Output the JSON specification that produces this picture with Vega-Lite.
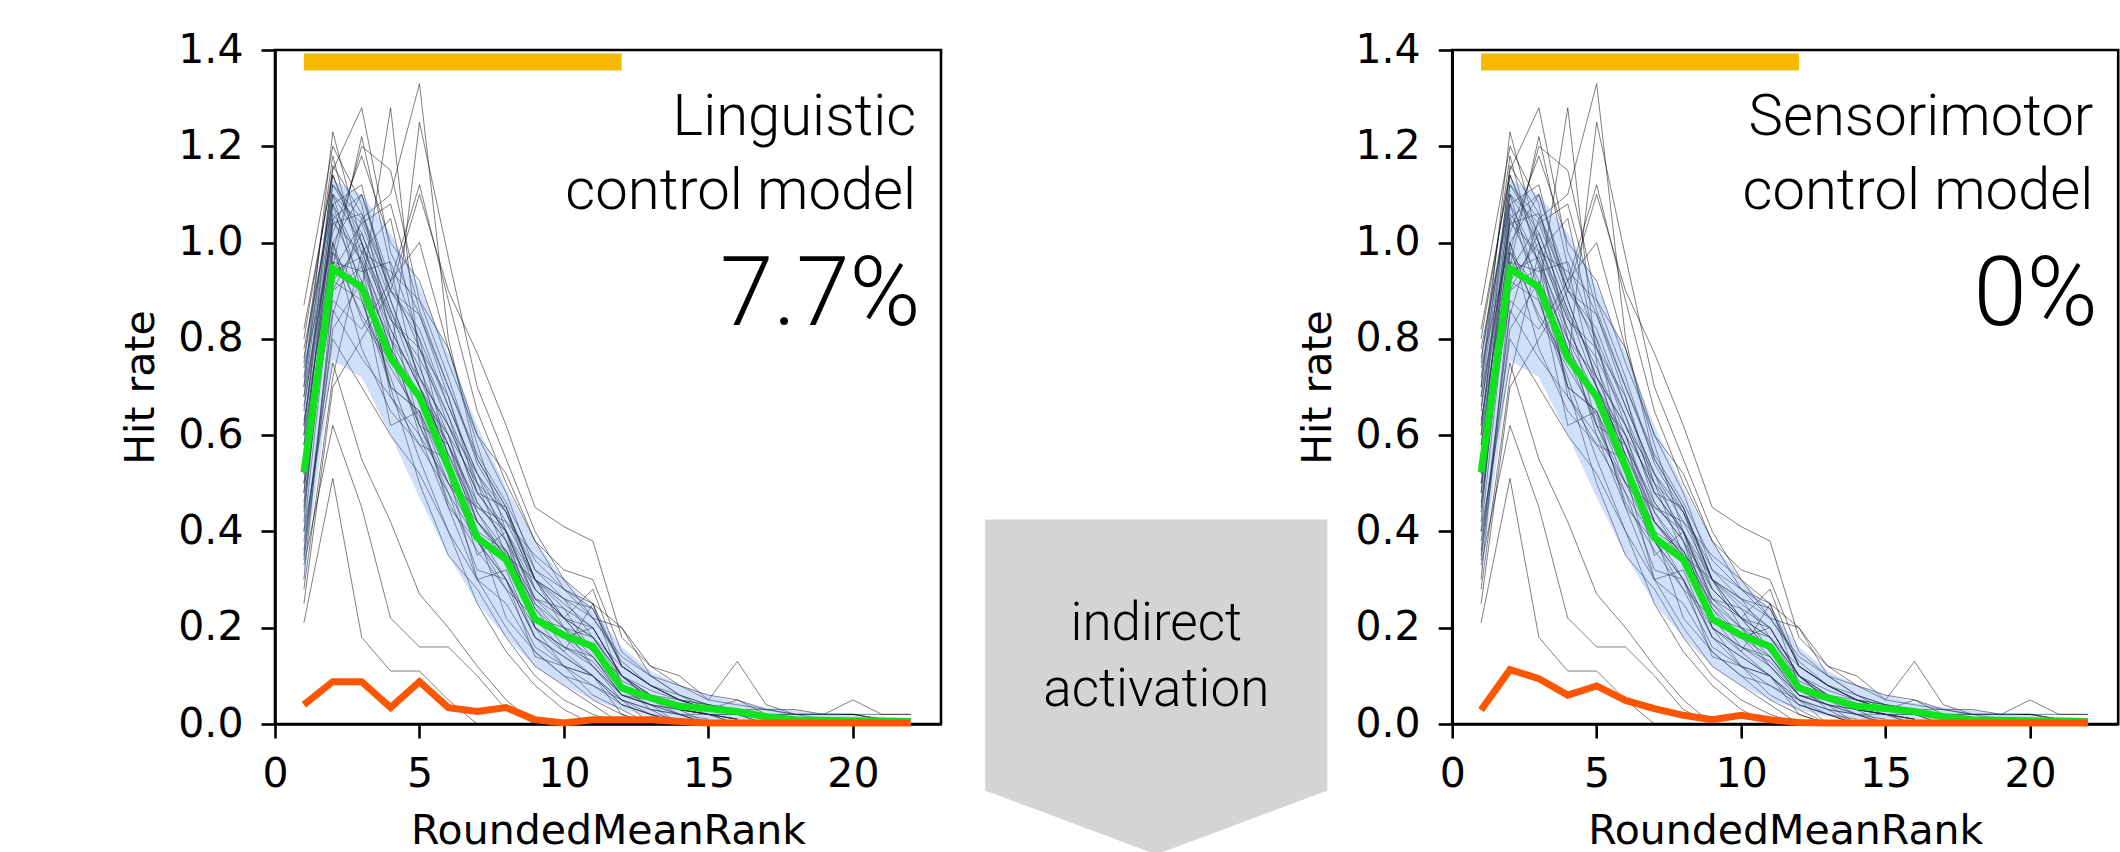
{
"$schema": "https://vega.github.io/schema/vega-lite/v6.json",
"padding": {"left": 119, "top": 27, "right": 0, "bottom": 0},
"spacing": 511.2,
"bounds": "flush",
"config": {
  "view": {"stroke": "black", "strokeWidth": 2.6},
  "axis": {"domainColor": "black", "domainWidth": 2.6, "tickColor": "black", "tickWidth": 2.6, "tickSize": 14, "labelFont": "DejaVu Sans", "labelFontSize": 41, "labelColor": "black", "titleFont": "DejaVu Sans", "titleFontSize": 41, "titleFontWeight": "normal", "titleColor": "black", "grid": false, "labelFlush": false, "labelOverlap": false},
  "axisX": {"labelPadding": 16, "titlePadding": 17},
  "axisY": {"labelPadding": 18, "titlePadding": 15},
  "text": {"font": "Roboto", "fontWeight": 300, "color": "black"}
},
"datasets": {
  "subj": [
{"s":1,"x":1,"y":0.62},{"s":1,"x":2,"y":1.05},{"s":1,"x":3,"y":1.10},{"s":1,"x":4,"y":0.90},{"s":1,"x":5,"y":0.80},{"s":1,"x":6,"y":0.55},{"s":1,"x":7,"y":0.40},{"s":1,"x":8,"y":0.30},{"s":1,"x":9,"y":0.20},{"s":1,"x":10,"y":0.12},{"s":1,"x":11,"y":0.10},{"s":1,"x":12,"y":0.05},{"s":1,"x":13,"y":0.03},{"s":1,"x":14,"y":0.02},{"s":1,"x":15,"y":0.0},
{"s":2,"x":1,"y":0.45},{"s":2,"x":2,"y":0.95},{"s":2,"x":3,"y":1.22},{"s":2,"x":4,"y":0.95},{"s":2,"x":5,"y":0.70},{"s":2,"x":6,"y":0.60},{"s":2,"x":7,"y":0.42},{"s":2,"x":8,"y":0.35},{"s":2,"x":9,"y":0.22},{"s":2,"x":10,"y":0.15},{"s":2,"x":11,"y":0.10},{"s":2,"x":12,"y":0.05},{"s":2,"x":13,"y":0.0},
{"s":3,"x":1,"y":0.70},{"s":3,"x":2,"y":1.23},{"s":3,"x":3,"y":1.00},{"s":3,"x":4,"y":0.85},{"s":3,"x":5,"y":0.62},{"s":3,"x":6,"y":0.48},{"s":3,"x":7,"y":0.38},{"s":3,"x":8,"y":0.30},{"s":3,"x":9,"y":0.18},{"s":3,"x":10,"y":0.12},{"s":3,"x":11,"y":0.08},{"s":3,"x":12,"y":0.04},{"s":3,"x":13,"y":0.02},{"s":3,"x":14,"y":0.0},
{"s":4,"x":1,"y":0.55},{"s":4,"x":2,"y":1.10},{"s":4,"x":3,"y":0.90},{"s":4,"x":4,"y":1.28},{"s":4,"x":5,"y":0.75},{"s":4,"x":6,"y":0.52},{"s":4,"x":7,"y":0.40},{"s":4,"x":8,"y":0.22},{"s":4,"x":9,"y":0.15},{"s":4,"x":10,"y":0.10},{"s":4,"x":11,"y":0.05},{"s":4,"x":12,"y":0.02},{"s":4,"x":13,"y":0.0},
{"s":5,"x":1,"y":0.35},{"s":5,"x":2,"y":0.85},{"s":5,"x":3,"y":1.05},{"s":5,"x":4,"y":1.10},{"s":5,"x":5,"y":1.33},{"s":5,"x":6,"y":0.80},{"s":5,"x":7,"y":0.55},{"s":5,"x":8,"y":0.45},{"s":5,"x":9,"y":0.30},{"s":5,"x":10,"y":0.22},{"s":5,"x":11,"y":0.15},{"s":5,"x":12,"y":0.08},{"s":5,"x":13,"y":0.05},{"s":5,"x":14,"y":0.03},{"s":5,"x":15,"y":0.0},
{"s":6,"x":1,"y":0.80},{"s":6,"x":2,"y":1.15},{"s":6,"x":3,"y":1.28},{"s":6,"x":4,"y":0.98},{"s":6,"x":5,"y":0.85},{"s":6,"x":6,"y":0.68},{"s":6,"x":7,"y":0.50},{"s":6,"x":8,"y":0.35},{"s":6,"x":9,"y":0.25},{"s":6,"x":10,"y":0.20},{"s":6,"x":11,"y":0.12},{"s":6,"x":12,"y":0.06},{"s":6,"x":13,"y":0.04},{"s":6,"x":14,"y":0.0},
{"s":7,"x":1,"y":0.50},{"s":7,"x":2,"y":0.98},{"s":7,"x":3,"y":0.85},{"s":7,"x":4,"y":0.75},{"s":7,"x":5,"y":1.25},{"s":7,"x":6,"y":0.97},{"s":7,"x":7,"y":0.70},{"s":7,"x":8,"y":0.55},{"s":7,"x":9,"y":0.40},{"s":7,"x":10,"y":0.30},{"s":7,"x":11,"y":0.25},{"s":7,"x":12,"y":0.12},{"s":7,"x":13,"y":0.08},{"s":7,"x":14,"y":0.05},{"s":7,"x":15,"y":0.03},{"s":7,"x":16,"y":0.02},{"s":7,"x":17,"y":0.0},
{"s":8,"x":1,"y":0.87},{"s":8,"x":2,"y":1.20},{"s":8,"x":3,"y":1.08},{"s":8,"x":4,"y":0.80},{"s":8,"x":5,"y":0.60},{"s":8,"x":6,"y":0.45},{"s":8,"x":7,"y":0.30},{"s":8,"x":8,"y":0.20},{"s":8,"x":9,"y":0.12},{"s":8,"x":10,"y":0.08},{"s":8,"x":11,"y":0.04},{"s":8,"x":12,"y":0.0},
{"s":9,"x":1,"y":0.30},{"s":9,"x":2,"y":0.90},{"s":9,"x":3,"y":0.95},{"s":9,"x":4,"y":0.70},{"s":9,"x":5,"y":0.65},{"s":9,"x":6,"y":0.50},{"s":9,"x":7,"y":0.45},{"s":9,"x":8,"y":0.40},{"s":9,"x":9,"y":0.25},{"s":9,"x":10,"y":0.18},{"s":9,"x":11,"y":0.20},{"s":9,"x":12,"y":0.10},{"s":9,"x":13,"y":0.05},{"s":9,"x":14,"y":0.03},{"s":9,"x":15,"y":0.02},{"s":9,"x":16,"y":0.0},
{"s":10,"x":1,"y":0.60},{"s":10,"x":2,"y":1.00},{"s":10,"x":3,"y":0.78},{"s":10,"x":4,"y":0.65},{"s":10,"x":5,"y":0.58},{"s":10,"x":6,"y":0.55},{"s":10,"x":7,"y":0.35},{"s":10,"x":8,"y":0.40},{"s":10,"x":9,"y":0.20},{"s":10,"x":10,"y":0.15},{"s":10,"x":11,"y":0.25},{"s":10,"x":12,"y":0.08},{"s":10,"x":13,"y":0.03},{"s":10,"x":14,"y":0.0},
{"s":11,"x":1,"y":0.25},{"s":11,"x":2,"y":0.70},{"s":11,"x":3,"y":0.80},{"s":11,"x":4,"y":0.90},{"s":11,"x":5,"y":1.10},{"s":11,"x":6,"y":0.90},{"s":11,"x":7,"y":0.77},{"s":11,"x":8,"y":0.62},{"s":11,"x":9,"y":0.45},{"s":11,"x":10,"y":0.41},{"s":11,"x":11,"y":0.38},{"s":11,"x":12,"y":0.18},{"s":11,"x":13,"y":0.12},{"s":11,"x":14,"y":0.10},{"s":11,"x":15,"y":0.05},{"s":11,"x":16,"y":0.13},{"s":11,"x":17,"y":0.04},{"s":11,"x":18,"y":0.02},{"s":11,"x":19,"y":0.02},{"s":11,"x":20,"y":0.05},{"s":11,"x":21,"y":0.02},{"s":11,"x":22,"y":0.02},
{"s":12,"x":1,"y":0.65},{"s":12,"x":2,"y":1.10},{"s":12,"x":3,"y":1.00},{"s":12,"x":4,"y":0.68},{"s":12,"x":5,"y":0.60},{"s":12,"x":6,"y":0.50},{"s":12,"x":7,"y":0.42},{"s":12,"x":8,"y":0.35},{"s":12,"x":9,"y":0.30},{"s":12,"x":10,"y":0.20},{"s":12,"x":11,"y":0.18},{"s":12,"x":12,"y":0.10},{"s":12,"x":13,"y":0.06},{"s":12,"x":14,"y":0.05},{"s":12,"x":15,"y":0.03},{"s":12,"x":16,"y":0.02},{"s":12,"x":17,"y":0.01},{"s":12,"x":18,"y":0.0},
{"s":13,"x":1,"y":0.21},{"s":13,"x":2,"y":0.51},{"s":13,"x":3,"y":0.18},{"s":13,"x":4,"y":0.11},{"s":13,"x":5,"y":0.11},{"s":13,"x":6,"y":0.05},{"s":13,"x":7,"y":0.0},
{"s":14,"x":1,"y":0.33},{"s":14,"x":2,"y":0.62},{"s":14,"x":3,"y":0.45},{"s":14,"x":4,"y":0.22},{"s":14,"x":5,"y":0.16},{"s":14,"x":6,"y":0.16},{"s":14,"x":7,"y":0.10},{"s":14,"x":8,"y":0.03},{"s":14,"x":9,"y":0.0},
{"s":15,"x":1,"y":0.40},{"s":15,"x":2,"y":0.75},{"s":15,"x":3,"y":0.55},{"s":15,"x":4,"y":0.42},{"s":15,"x":5,"y":0.27},{"s":15,"x":6,"y":0.20},{"s":15,"x":7,"y":0.12},{"s":15,"x":8,"y":0.05},{"s":15,"x":9,"y":0.0},
{"s":16,"x":1,"y":0.72},{"s":16,"x":2,"y":1.12},{"s":16,"x":3,"y":1.05},{"s":16,"x":4,"y":0.90},{"s":16,"x":5,"y":0.85},{"s":16,"x":6,"y":0.70},{"s":16,"x":7,"y":0.55},{"s":16,"x":8,"y":0.45},{"s":16,"x":9,"y":0.30},{"s":16,"x":10,"y":0.25},{"s":16,"x":11,"y":0.20},{"s":16,"x":12,"y":0.10},{"s":16,"x":13,"y":0.05},{"s":16,"x":14,"y":0.04},{"s":16,"x":15,"y":0.03},{"s":16,"x":16,"y":0.02},
{"s":17,"x":1,"y":0.58},{"s":17,"x":2,"y":0.92},{"s":17,"x":3,"y":0.88},{"s":17,"x":4,"y":0.72},{"s":17,"x":5,"y":0.55},{"s":17,"x":6,"y":0.40},{"s":17,"x":7,"y":0.30},{"s":17,"x":8,"y":0.25},{"s":17,"x":9,"y":0.15},{"s":17,"x":10,"y":0.10},{"s":17,"x":11,"y":0.08},{"s":17,"x":12,"y":0.05},{"s":17,"x":13,"y":0.02},{"s":17,"x":14,"y":0.0},
{"s":18,"x":1,"y":0.48},{"s":18,"x":2,"y":1.08},{"s":18,"x":3,"y":1.12},{"s":18,"x":4,"y":0.88},{"s":18,"x":5,"y":0.72},{"s":18,"x":6,"y":0.62},{"s":18,"x":7,"y":0.48},{"s":18,"x":8,"y":0.40},{"s":18,"x":9,"y":0.28},{"s":18,"x":10,"y":0.22},{"s":18,"x":11,"y":0.28},{"s":18,"x":12,"y":0.12},{"s":18,"x":13,"y":0.08},{"s":18,"x":14,"y":0.05},{"s":18,"x":15,"y":0.03},{"s":18,"x":16,"y":0.03},{"s":18,"x":17,"y":0.02},{"s":18,"x":18,"y":0.02},{"s":18,"x":19,"y":0.02},{"s":18,"x":20,"y":0.02},{"s":18,"x":21,"y":0.02},{"s":18,"x":22,"y":0.02},
{"s":19,"x":1,"y":0.75},{"s":19,"x":2,"y":1.18},{"s":19,"x":3,"y":0.95},{"s":19,"x":4,"y":0.78},{"s":19,"x":5,"y":0.62},{"s":19,"x":6,"y":0.58},{"s":19,"x":7,"y":0.45},{"s":19,"x":8,"y":0.42},{"s":19,"x":9,"y":0.35},{"s":19,"x":10,"y":0.30},{"s":19,"x":11,"y":0.22},{"s":19,"x":12,"y":0.20},{"s":19,"x":13,"y":0.10},{"s":19,"x":14,"y":0.08},{"s":19,"x":15,"y":0.05},{"s":19,"x":16,"y":0.04},{"s":19,"x":17,"y":0.03},{"s":19,"x":18,"y":0.03},{"s":19,"x":19,"y":0.02},{"s":19,"x":20,"y":0.02},{"s":19,"x":21,"y":0.01},{"s":19,"x":22,"y":0.01},
{"s":20,"x":1,"y":0.38},{"s":20,"x":2,"y":0.80},{"s":20,"x":3,"y":0.70},{"s":20,"x":4,"y":0.60},{"s":20,"x":5,"y":0.52},{"s":20,"x":6,"y":0.40},{"s":20,"x":7,"y":0.25},{"s":20,"x":8,"y":0.15},{"s":20,"x":9,"y":0.08},{"s":20,"x":10,"y":0.03},{"s":20,"x":11,"y":0.0},
{"s":21,"x":1,"y":0.68},{"s":21,"x":2,"y":1.02},{"s":21,"x":3,"y":1.18},{"s":21,"x":4,"y":1.00},{"s":21,"x":5,"y":0.92},{"s":21,"x":6,"y":0.75},{"s":21,"x":7,"y":0.60},{"s":21,"x":8,"y":0.52},{"s":21,"x":9,"y":0.38},{"s":21,"x":10,"y":0.32},{"s":21,"x":11,"y":0.30},{"s":21,"x":12,"y":0.15},{"s":21,"x":13,"y":0.10},{"s":21,"x":14,"y":0.06},{"s":21,"x":15,"y":0.04},{"s":21,"x":16,"y":0.02},{"s":21,"x":17,"y":0.0},
{"s":22,"x":1,"y":0.52},{"s":22,"x":2,"y":0.88},{"s":22,"x":3,"y":0.82},{"s":22,"x":4,"y":0.92},{"s":22,"x":5,"y":1.12},{"s":22,"x":6,"y":0.88},{"s":22,"x":7,"y":0.65},{"s":22,"x":8,"y":0.50},{"s":22,"x":9,"y":0.38},{"s":22,"x":10,"y":0.28},{"s":22,"x":11,"y":0.25},{"s":22,"x":12,"y":0.20},{"s":22,"x":13,"y":0.12},{"s":22,"x":14,"y":0.08},{"s":22,"x":15,"y":0.06},{"s":22,"x":16,"y":0.05},{"s":22,"x":17,"y":0.03},{"s":22,"x":18,"y":0.02},{"s":22,"x":19,"y":0.02},{"s":22,"x":20,"y":0.02},{"s":22,"x":21,"y":0.01},{"s":22,"x":22,"y":0.01},
{"s":23,"x":1,"y":0.42},{"s":23,"x":2,"y":1.05},{"s":23,"x":3,"y":0.92},{"s":23,"x":4,"y":0.70},{"s":23,"x":5,"y":0.50},{"s":23,"x":6,"y":0.35},{"s":23,"x":7,"y":0.28},{"s":23,"x":8,"y":0.18},{"s":23,"x":9,"y":0.10},{"s":23,"x":10,"y":0.05},{"s":23,"x":11,"y":0.02},{"s":23,"x":12,"y":0.0},
{"s":24,"x":1,"y":0.82},{"s":24,"x":2,"y":1.14},{"s":24,"x":3,"y":1.00},{"s":24,"x":4,"y":0.82},{"s":24,"x":5,"y":0.70},{"s":24,"x":6,"y":0.58},{"s":24,"x":7,"y":0.42},{"s":24,"x":8,"y":0.36},{"s":24,"x":9,"y":0.26},{"s":24,"x":10,"y":0.24},{"s":24,"x":11,"y":0.15},{"s":24,"x":12,"y":0.08},{"s":24,"x":13,"y":0.06},{"s":24,"x":14,"y":0.04},{"s":24,"x":15,"y":0.03},{"s":24,"x":16,"y":0.02},{"s":24,"x":17,"y":0.02},{"s":24,"x":18,"y":0.01},
{"s":25,"x":1,"y":0.55},{"s":25,"x":2,"y":0.98},{"s":25,"x":3,"y":1.20},{"s":25,"x":4,"y":1.15},{"s":25,"x":5,"y":0.88},{"s":25,"x":6,"y":0.78},{"s":25,"x":7,"y":0.58},{"s":25,"x":8,"y":0.40},{"s":25,"x":9,"y":0.30},{"s":25,"x":10,"y":0.22},{"s":25,"x":11,"y":0.15},{"s":25,"x":12,"y":0.10},{"s":25,"x":13,"y":0.05},{"s":25,"x":14,"y":0.02},{"s":25,"x":15,"y":0.0},
{"s":26,"x":1,"y":0.63},{"s":26,"x":2,"y":0.96},{"s":26,"x":3,"y":0.90},{"s":26,"x":4,"y":0.62},{"s":26,"x":5,"y":0.65},{"s":26,"x":6,"y":0.45},{"s":26,"x":7,"y":0.38},{"s":26,"x":8,"y":0.28},{"s":26,"x":9,"y":0.22},{"s":26,"x":10,"y":0.18},{"s":26,"x":11,"y":0.12},{"s":26,"x":12,"y":0.06},{"s":26,"x":13,"y":0.05},{"s":26,"x":14,"y":0.03},{"s":26,"x":15,"y":0.02},{"s":26,"x":16,"y":0.0},
{"s":27,"x":1,"y":0.28},{"s":27,"x":2,"y":0.72},{"s":27,"x":3,"y":0.98},{"s":27,"x":4,"y":1.05},{"s":27,"x":5,"y":0.78},{"s":27,"x":6,"y":0.68},{"s":27,"x":7,"y":0.48},{"s":27,"x":8,"y":0.45},{"s":27,"x":9,"y":0.30},{"s":27,"x":10,"y":0.26},{"s":27,"x":11,"y":0.18},{"s":27,"x":12,"y":0.12},{"s":27,"x":13,"y":0.08},{"s":27,"x":14,"y":0.06},{"s":27,"x":15,"y":0.03},{"s":27,"x":16,"y":0.05},{"s":27,"x":17,"y":0.02},{"s":27,"x":18,"y":0.01},{"s":27,"x":19,"y":0.01},
{"s":28,"x":1,"y":0.78},{"s":28,"x":2,"y":1.08},{"s":28,"x":3,"y":0.88},{"s":28,"x":4,"y":0.70},{"s":28,"x":5,"y":0.65},{"s":28,"x":6,"y":0.52},{"s":28,"x":7,"y":0.30},{"s":28,"x":8,"y":0.32},{"s":28,"x":9,"y":0.18},{"s":28,"x":10,"y":0.14},{"s":28,"x":11,"y":0.10},{"s":28,"x":12,"y":0.02},{"s":28,"x":13,"y":0.0},
{"s":29,"x":1,"y":0.46},{"s":29,"x":2,"y":0.94},{"s":29,"x":3,"y":0.97},{"s":29,"x":4,"y":0.80},{"s":29,"x":5,"y":0.72},{"s":29,"x":6,"y":0.62},{"s":29,"x":7,"y":0.52},{"s":29,"x":8,"y":0.38},{"s":29,"x":9,"y":0.20},{"s":29,"x":10,"y":0.16},{"s":29,"x":11,"y":0.13},{"s":29,"x":12,"y":0.06},{"s":29,"x":13,"y":0.04},{"s":29,"x":14,"y":0.03},{"s":29,"x":15,"y":0.02},{"s":29,"x":16,"y":0.01},
{"s":30,"x":1,"y":0.60},{"s":30,"x":2,"y":1.16},{"s":30,"x":3,"y":1.06},{"s":30,"x":4,"y":0.92},{"s":30,"x":5,"y":1.00},{"s":30,"x":6,"y":0.78},{"s":30,"x":7,"y":0.60},{"s":30,"x":8,"y":0.48},{"s":30,"x":9,"y":0.32},{"s":30,"x":10,"y":0.28},{"s":30,"x":11,"y":0.22},{"s":30,"x":12,"y":0.13},{"s":30,"x":13,"y":0.08},{"s":30,"x":14,"y":0.05},{"s":30,"x":15,"y":0.04},{"s":30,"x":16,"y":0.03},{"s":30,"x":17,"y":0.02},{"s":30,"x":18,"y":0.02},{"s":30,"x":19,"y":0.01},{"s":30,"x":20,"y":0.01},
{"s":31,"x":1,"y":0.36},{"s":31,"x":2,"y":0.86},{"s":31,"x":3,"y":0.76},{"s":31,"x":4,"y":0.68},{"s":31,"x":5,"y":0.58},{"s":31,"x":6,"y":0.48},{"s":31,"x":7,"y":0.32},{"s":31,"x":8,"y":0.30},{"s":31,"x":9,"y":0.14},{"s":31,"x":10,"y":0.12},{"s":31,"x":11,"y":0.06},{"s":31,"x":12,"y":0.03},{"s":31,"x":13,"y":0.0},
{"s":32,"x":1,"y":0.66},{"s":32,"x":2,"y":1.04},{"s":32,"x":3,"y":0.98},{"s":32,"x":4,"y":0.84},{"s":32,"x":5,"y":0.76},{"s":32,"x":6,"y":0.64},{"s":32,"x":7,"y":0.46},{"s":32,"x":8,"y":0.38},{"s":32,"x":9,"y":0.24},{"s":32,"x":10,"y":0.18},{"s":32,"x":11,"y":0.16},{"s":32,"x":12,"y":0.08},{"s":32,"x":13,"y":0.06},{"s":32,"x":14,"y":0.03},{"s":32,"x":15,"y":0.02},{"s":32,"x":16,"y":0.02},{"s":32,"x":17,"y":0.01},
{"s":33,"x":1,"y":0.50},{"s":33,"x":2,"y":0.90},{"s":33,"x":3,"y":1.02},{"s":33,"x":4,"y":0.86},{"s":33,"x":5,"y":0.70},{"s":33,"x":6,"y":0.56},{"s":33,"x":7,"y":0.44},{"s":33,"x":8,"y":0.34},{"s":33,"x":9,"y":0.22},{"s":33,"x":10,"y":0.20},{"s":33,"x":11,"y":0.14},{"s":33,"x":12,"y":0.07},{"s":33,"x":13,"y":0.04},{"s":33,"x":14,"y":0.02},{"s":33,"x":15,"y":0.02},{"s":33,"x":16,"y":0.01},
{"s":34,"x":1,"y":0.74},{"s":34,"x":2,"y":1.00},{"s":34,"x":3,"y":0.84},{"s":34,"x":4,"y":0.74},{"s":34,"x":5,"y":0.64},{"s":34,"x":6,"y":0.46},{"s":34,"x":7,"y":0.36},{"s":34,"x":8,"y":0.28},{"s":34,"x":9,"y":0.16},{"s":34,"x":10,"y":0.12},{"s":34,"x":11,"y":0.10},{"s":34,"x":12,"y":0.04},{"s":34,"x":13,"y":0.02},{"s":34,"x":14,"y":0.01},
{"s":35,"x":1,"y":0.44},{"s":35,"x":2,"y":0.96},{"s":35,"x":3,"y":0.94},{"s":35,"x":4,"y":0.96},{"s":35,"x":5,"y":0.80},{"s":35,"x":6,"y":0.66},{"s":35,"x":7,"y":0.52},{"s":35,"x":8,"y":0.44},{"s":35,"x":9,"y":0.28},{"s":35,"x":10,"y":0.22},{"s":35,"x":11,"y":0.20},{"s":35,"x":12,"y":0.10},{"s":35,"x":13,"y":0.07},{"s":35,"x":14,"y":0.05},{"s":35,"x":15,"y":0.03},{"s":35,"x":16,"y":0.02},{"s":35,"x":17,"y":0.02},{"s":35,"x":18,"y":0.01},
{"s":36,"x":1,"y":0.56},{"s":36,"x":2,"y":1.06},{"s":36,"x":3,"y":0.96},{"s":36,"x":4,"y":0.78},{"s":36,"x":5,"y":0.68},{"s":36,"x":6,"y":0.58},{"s":36,"x":7,"y":0.40},{"s":36,"x":8,"y":0.36},{"s":36,"x":9,"y":0.24},{"s":36,"x":10,"y":0.16},{"s":36,"x":11,"y":0.14},{"s":36,"x":12,"y":0.06},{"s":36,"x":13,"y":0.04},{"s":36,"x":14,"y":0.03},{"s":36,"x":15,"y":0.02},{"s":36,"x":16,"y":0.01},
{"s":37,"x":1,"y":0.68},{"s":37,"x":2,"y":1.12},{"s":37,"x":3,"y":1.02},{"s":37,"x":4,"y":0.86},{"s":37,"x":5,"y":0.74},{"s":37,"x":6,"y":0.60},{"s":37,"x":7,"y":0.44},{"s":37,"x":8,"y":0.36},{"s":37,"x":9,"y":0.22},{"s":37,"x":10,"y":0.18},{"s":37,"x":11,"y":0.14},{"s":37,"x":12,"y":0.06},{"s":37,"x":13,"y":0.04},{"s":37,"x":14,"y":0.02},{"s":37,"x":15,"y":0.01},
{"s":38,"x":1,"y":0.52},{"s":38,"x":2,"y":1.00},{"s":38,"x":3,"y":1.10},{"s":38,"x":4,"y":0.92},{"s":38,"x":5,"y":0.78},{"s":38,"x":6,"y":0.64},{"s":38,"x":7,"y":0.50},{"s":38,"x":8,"y":0.40},{"s":38,"x":9,"y":0.26},{"s":38,"x":10,"y":0.20},{"s":38,"x":11,"y":0.16},{"s":38,"x":12,"y":0.08},{"s":38,"x":13,"y":0.05},{"s":38,"x":14,"y":0.03},{"s":38,"x":15,"y":0.02},{"s":38,"x":16,"y":0.01},
{"s":39,"x":1,"y":0.40},{"s":39,"x":2,"y":0.94},{"s":39,"x":3,"y":1.04},{"s":39,"x":4,"y":1.08},{"s":39,"x":5,"y":0.86},{"s":39,"x":6,"y":0.70},{"s":39,"x":7,"y":0.56},{"s":39,"x":8,"y":0.46},{"s":39,"x":9,"y":0.34},{"s":39,"x":10,"y":0.28},{"s":39,"x":11,"y":0.24},{"s":39,"x":12,"y":0.12},{"s":39,"x":13,"y":0.08},{"s":39,"x":14,"y":0.05},{"s":39,"x":15,"y":0.04},{"s":39,"x":16,"y":0.03},{"s":39,"x":17,"y":0.02},{"s":39,"x":18,"y":0.01},
{"s":40,"x":1,"y":0.62},{"s":40,"x":2,"y":1.08},{"s":40,"x":3,"y":0.96},{"s":40,"x":4,"y":0.82},{"s":40,"x":5,"y":0.70},{"s":40,"x":6,"y":0.56},{"s":40,"x":7,"y":0.42},{"s":40,"x":8,"y":0.34},{"s":40,"x":9,"y":0.20},{"s":40,"x":10,"y":0.16},{"s":40,"x":11,"y":0.12},{"s":40,"x":12,"y":0.05},{"s":40,"x":13,"y":0.03},{"s":40,"x":14,"y":0.02},{"s":40,"x":15,"y":0.0},
{"s":41,"x":1,"y":0.76},{"s":41,"x":2,"y":1.10},{"s":41,"x":3,"y":1.04},{"s":41,"x":4,"y":0.88},{"s":41,"x":5,"y":0.72},{"s":41,"x":6,"y":0.58},{"s":41,"x":7,"y":0.46},{"s":41,"x":8,"y":0.38},{"s":41,"x":9,"y":0.28},{"s":41,"x":10,"y":0.22},{"s":41,"x":11,"y":0.18},{"s":41,"x":12,"y":0.10},{"s":41,"x":13,"y":0.06},{"s":41,"x":14,"y":0.04},{"s":41,"x":15,"y":0.02},{"s":41,"x":16,"y":0.02},{"s":41,"x":17,"y":0.01},
{"s":42,"x":1,"y":0.34},{"s":42,"x":2,"y":0.82},{"s":42,"x":3,"y":0.92},{"s":42,"x":4,"y":0.80},{"s":42,"x":5,"y":0.68},{"s":42,"x":6,"y":0.60},{"s":42,"x":7,"y":0.50},{"s":42,"x":8,"y":0.44},{"s":42,"x":9,"y":0.32},{"s":42,"x":10,"y":0.26},{"s":42,"x":11,"y":0.22},{"s":42,"x":12,"y":0.14},{"s":42,"x":13,"y":0.10},{"s":42,"x":14,"y":0.06},{"s":42,"x":15,"y":0.04},{"s":42,"x":16,"y":0.03},{"s":42,"x":17,"y":0.03},{"s":42,"x":18,"y":0.02},{"s":42,"x":19,"y":0.02},{"s":42,"x":20,"y":0.02},{"s":42,"x":21,"y":0.01},{"s":42,"x":22,"y":0.01},
{"s":43,"x":1,"y":0.58},{"s":43,"x":2,"y":1.04},{"s":43,"x":3,"y":1.06},{"s":43,"x":4,"y":0.90},{"s":43,"x":5,"y":0.82},{"s":43,"x":6,"y":0.66},{"s":43,"x":7,"y":0.52},{"s":43,"x":8,"y":0.42},{"s":43,"x":9,"y":0.30},{"s":43,"x":10,"y":0.24},{"s":43,"x":11,"y":0.20},{"s":43,"x":12,"y":0.10},{"s":43,"x":13,"y":0.06},{"s":43,"x":14,"y":0.04},{"s":43,"x":15,"y":0.03},{"s":43,"x":16,"y":0.02},
{"s":44,"x":1,"y":0.48},{"s":44,"x":2,"y":0.98},{"s":44,"x":3,"y":0.90},{"s":44,"x":4,"y":0.76},{"s":44,"x":5,"y":0.62},{"s":44,"x":6,"y":0.50},{"s":44,"x":7,"y":0.38},{"s":44,"x":8,"y":0.30},{"s":44,"x":9,"y":0.18},{"s":44,"x":10,"y":0.14},{"s":44,"x":11,"y":0.10},{"s":44,"x":12,"y":0.04},{"s":44,"x":13,"y":0.02},{"s":44,"x":14,"y":0.0},
{"s":45,"x":1,"y":0.70},{"s":45,"x":2,"y":1.14},{"s":45,"x":3,"y":0.98},{"s":45,"x":4,"y":0.94},{"s":45,"x":5,"y":0.88},{"s":45,"x":6,"y":0.72},{"s":45,"x":7,"y":0.54},{"s":45,"x":8,"y":0.44},{"s":45,"x":9,"y":0.30},{"s":45,"x":10,"y":0.26},{"s":45,"x":11,"y":0.24},{"s":45,"x":12,"y":0.12},{"s":45,"x":13,"y":0.08},{"s":45,"x":14,"y":0.05},{"s":45,"x":15,"y":0.03},{"s":45,"x":16,"y":0.02},{"s":45,"x":17,"y":0.02},{"s":45,"x":18,"y":0.01},
{"s":46,"x":1,"y":0.54},{"s":46,"x":2,"y":0.92},{"s":46,"x":3,"y":1.00},{"s":46,"x":4,"y":0.84},{"s":46,"x":5,"y":0.78},{"s":46,"x":6,"y":0.62},{"s":46,"x":7,"y":0.48},{"s":46,"x":8,"y":0.40},{"s":46,"x":9,"y":0.26},{"s":46,"x":10,"y":0.22},{"s":46,"x":11,"y":0.18},{"s":46,"x":12,"y":0.09},{"s":46,"x":13,"y":0.06},{"s":46,"x":14,"y":0.03},{"s":46,"x":15,"y":0.02},{"s":46,"x":16,"y":0.01}
  ],
  "mean": [
{"x":1,"y":0.523},{"x":2,"y":0.946},{"x":3,"y":0.907},{"x":4,"y":0.76},{"x":5,"y":0.68},{"x":6,"y":0.534},{"x":7,"y":0.387},{"x":8,"y":0.342},{"x":9,"y":0.218},{"x":10,"y":0.184},{"x":11,"y":0.161},{"x":12,"y":0.075},{"x":13,"y":0.054},{"x":14,"y":0.037},{"x":15,"y":0.032},{"x":16,"y":0.026},{"x":17,"y":0.015},{"x":18,"y":0.009},{"x":19,"y":0.008},{"x":20,"y":0.007},{"x":21,"y":0.006},{"x":22,"y":0.005}
  ],
  "band": [
{"x":1,"lo":0.30,"hi":0.76},{"x":2,"lo":0.755,"hi":1.13},{"x":3,"lo":0.72,"hi":1.10},{"x":4,"lo":0.60,"hi":1.02},{"x":5,"lo":0.47,"hi":0.91},{"x":6,"lo":0.35,"hi":0.77},{"x":7,"lo":0.25,"hi":0.62},{"x":8,"lo":0.18,"hi":0.49},{"x":9,"lo":0.12,"hi":0.38},{"x":10,"lo":0.08,"hi":0.30},{"x":11,"lo":0.05,"hi":0.24},{"x":12,"lo":0.03,"hi":0.16},{"x":13,"lo":0.015,"hi":0.11},{"x":14,"lo":0.01,"hi":0.08},{"x":15,"lo":0.005,"hi":0.06},{"x":16,"lo":0.0,"hi":0.045},{"x":17,"lo":0.0,"hi":0.035},{"x":18,"lo":0.0,"hi":0.028},{"x":19,"lo":0.0,"hi":0.022},{"x":20,"lo":0.0,"hi":0.018},{"x":21,"lo":0.0,"hi":0.015},{"x":22,"lo":0.0,"hi":0.012}
  ],
  "ctrlL": [
{"x":1,"y":0.04},{"x":2,"y":0.088},{"x":3,"y":0.088},{"x":4,"y":0.034},{"x":5,"y":0.088},{"x":6,"y":0.034},{"x":7,"y":0.026},{"x":8,"y":0.034},{"x":9,"y":0.009},{"x":10,"y":0.002},{"x":11,"y":0.009},{"x":12,"y":0.009},{"x":13,"y":0.009},{"x":14,"y":0.005},{"x":15,"y":0.002},{"x":16,"y":0.002},{"x":17,"y":0.002},{"x":18,"y":0.002},{"x":19,"y":0.002},{"x":20,"y":0.002},{"x":21,"y":0.002},{"x":22,"y":0.002}
  ],
  "ctrlR": [
{"x":1,"y":0.029},{"x":2,"y":0.113},{"x":3,"y":0.094},{"x":4,"y":0.06},{"x":5,"y":0.079},{"x":6,"y":0.049},{"x":7,"y":0.032},{"x":8,"y":0.018},{"x":9,"y":0.009},{"x":10,"y":0.018},{"x":11,"y":0.009},{"x":12,"y":0.003},{"x":13,"y":0.002},{"x":14,"y":0.002},{"x":15,"y":0.002},{"x":16,"y":0.002},{"x":17,"y":0.002},{"x":18,"y":0.002},{"x":19,"y":0.002},{"x":20,"y":0.002},{"x":21,"y":0.002},{"x":22,"y":0.002}
  ],
  "arrow": [
{"x":24.58,"top":0.4248,"bot":-0.138},{"x":30.5,"top":0.4248,"bot":-0.271},{"x":36.42,"top":0.4248,"bot":-0.138}
  ]
},
"hconcat": [
 {
  "width": 666, "height": 674,
  "layer": [
   {"data": {"name": "subj"}, "mark": {"type": "line", "stroke": "black", "strokeWidth": 1, "opacity": 0.5},
    "encoding": {
     "x": {"field": "x", "type": "quantitative", "scale": {"domain": [0, 23.05], "nice": false, "zero": false}, "axis": {"values": [0, 5, 10, 15, 20], "title": "RoundedMeanRank"}},
     "y": {"field": "y", "type": "quantitative", "scale": {"domain": [0, 1.4], "nice": false, "zero": false}, "axis": {"values": [0, 0.2, 0.4, 0.6, 0.8, 1.0, 1.2, 1.4], "format": ".1f", "title": "Hit rate"}},
     "detail": {"field": "s", "type": "nominal"}}},
   {"data": {"name": "band"}, "mark": {"type": "area", "color": "#6495ed", "opacity": 0.3},
    "encoding": {"x": {"field": "x", "type": "quantitative"}, "y": {"field": "hi", "type": "quantitative", "title": "Hit rate"}, "y2": {"field": "lo"}}},
   {"data": {"name": "mean"}, "mark": {"type": "line", "color": "#0fe31c", "strokeWidth": 7},
    "encoding": {"x": {"field": "x", "type": "quantitative"}, "y": {"field": "y", "type": "quantitative", "title": "Hit rate"}}},
   {"data": {"name": "ctrlL"}, "mark": {"type": "line", "color": "#ff5400", "strokeWidth": 7},
    "encoding": {"x": {"field": "x", "type": "quantitative"}, "y": {"field": "y", "type": "quantitative", "title": "Hit rate"}}},
   {"data": {"values": [{}]}, "mark": {"type": "rule", "color": "#f7b900", "strokeWidth": 17, "strokeCap": "butt"},
    "encoding": {"x": {"datum": 1, "type": "quantitative"}, "x2": {"datum": 12}, "y": {"datum": 1.375, "type": "quantitative"}}},
   {"data": {"values": [{}]}, "mark": {"type": "text", "align": "right", "baseline": "alphabetic", "fontSize": 58, "lineHeight": 73.5},
    "encoding": {"x": {"datum": 22.19, "type": "quantitative"}, "y": {"datum": 1.2225, "type": "quantitative"}, "text": {"value": ["Linguistic", "control model"]}}},
   {"data": {"values": [{}]}, "mark": {"type": "text", "align": "right", "baseline": "alphabetic", "fontSize": 96},
    "encoding": {"x": {"datum": 22.34, "type": "quantitative"}, "y": {"datum": 0.8278, "type": "quantitative"}, "text": {"value": "7.7%"}}},
   {"data": {"name": "arrow"}, "mark": {"type": "area", "color": "#d4d4d4", "clip": false},
    "encoding": {"x": {"field": "x", "type": "quantitative"}, "y": {"field": "top", "type": "quantitative", "title": "Hit rate"}, "y2": {"field": "bot"}}},
   {"data": {"values": [{}]}, "mark": {"type": "text", "align": "center", "baseline": "alphabetic", "fontSize": 53, "lineHeight": 66, "clip": false},
    "encoding": {"x": {"datum": 30.5, "type": "quantitative"}, "y": {"datum": 0.1755, "type": "quantitative"}, "text": {"value": ["indirect", "activation"]}}}
  ]
 },
 {
  "width": 666, "height": 674,
  "layer": [
   {"data": {"name": "subj"}, "mark": {"type": "line", "stroke": "black", "strokeWidth": 1, "opacity": 0.5},
    "encoding": {
     "x": {"field": "x", "type": "quantitative", "scale": {"domain": [0, 23.05], "nice": false, "zero": false}, "axis": {"values": [0, 5, 10, 15, 20], "title": "RoundedMeanRank"}},
     "y": {"field": "y", "type": "quantitative", "scale": {"domain": [0, 1.4], "nice": false, "zero": false}, "axis": {"values": [0, 0.2, 0.4, 0.6, 0.8, 1.0, 1.2, 1.4], "format": ".1f", "title": "Hit rate"}},
     "detail": {"field": "s", "type": "nominal"}}},
   {"data": {"name": "band"}, "mark": {"type": "area", "color": "#6495ed", "opacity": 0.3},
    "encoding": {"x": {"field": "x", "type": "quantitative"}, "y": {"field": "hi", "type": "quantitative", "title": "Hit rate"}, "y2": {"field": "lo"}}},
   {"data": {"name": "mean"}, "mark": {"type": "line", "color": "#0fe31c", "strokeWidth": 7},
    "encoding": {"x": {"field": "x", "type": "quantitative"}, "y": {"field": "y", "type": "quantitative", "title": "Hit rate"}}},
   {"data": {"name": "ctrlR"}, "mark": {"type": "line", "color": "#ff5400", "strokeWidth": 7},
    "encoding": {"x": {"field": "x", "type": "quantitative"}, "y": {"field": "y", "type": "quantitative", "title": "Hit rate"}}},
   {"data": {"values": [{}]}, "mark": {"type": "rule", "color": "#f7b900", "strokeWidth": 17, "strokeCap": "butt"},
    "encoding": {"x": {"datum": 1, "type": "quantitative"}, "x2": {"datum": 12}, "y": {"datum": 1.375, "type": "quantitative"}}},
   {"data": {"values": [{}]}, "mark": {"type": "text", "align": "right", "baseline": "alphabetic", "fontSize": 58, "lineHeight": 73.5},
    "encoding": {"x": {"datum": 22.19, "type": "quantitative"}, "y": {"datum": 1.2225, "type": "quantitative"}, "text": {"value": ["Sensorimotor", "control model"]}}},
   {"data": {"values": [{}]}, "mark": {"type": "text", "align": "right", "baseline": "alphabetic", "fontSize": 96},
    "encoding": {"x": {"datum": 22.34, "type": "quantitative"}, "y": {"datum": 0.8278, "type": "quantitative"}, "text": {"value": "0%"}}}
  ]
 }
]
}
